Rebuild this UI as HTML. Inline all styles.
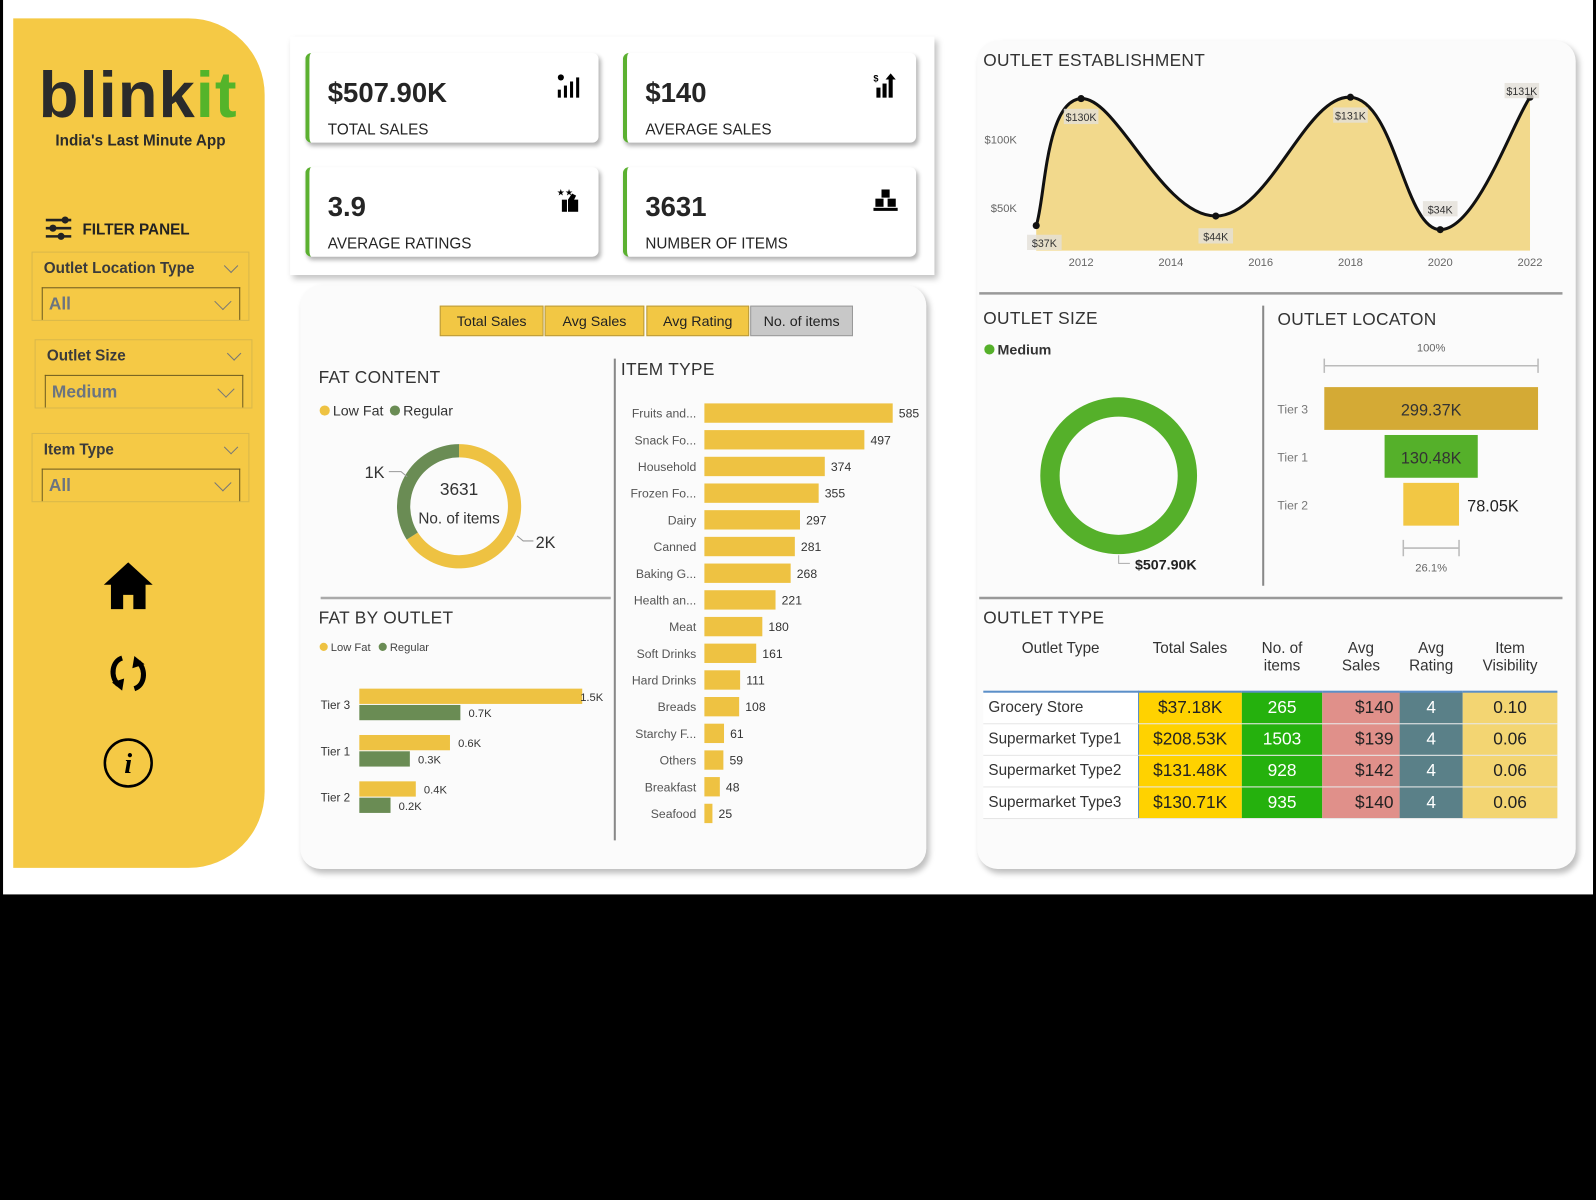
<!DOCTYPE html>
<html><head><meta charset="utf-8">
<style>
body{margin:0;width:1596px;height:1200px;background:#000;overflow:hidden;font-family:"Liberation Sans",sans-serif;}
#root{position:absolute;left:0;top:0;width:1568px;height:1178px;transform:scale(1.0179,1.0187);transform-origin:0 0;}
.abs{position:absolute;}
.page{position:absolute;left:3px;top:0;width:1562px;height:878px;background:#fff;}
.side{position:absolute;left:13px;top:18px;width:247px;height:834px;background:#f5c945;border-radius:0 75px 75px 0;}
.card{position:absolute;background:#fff;border-left:4px solid #5bb030;border-radius:6px;box-shadow:2px 3px 4px rgba(0,0,0,.3);}
.card .v{position:absolute;left:18px;top:24px;font-size:27px;font-weight:bold;color:#252525;}
.card .l{position:absolute;left:18px;top:67px;font-size:15px;color:#252525;}
.card svg{position:absolute;right:18px;top:20px;}
.panel{position:absolute;background:#fbfbfb;border-radius:20px;box-shadow:3px 4px 6px rgba(0,0,0,.25);}
.title{position:absolute;font-size:17px;color:#333;letter-spacing:.3px;}
.slic{position:absolute;border:1px solid #d9b84a;}
.slic .t{position:absolute;left:11px;top:7px;font-size:15px;font-weight:bold;color:#3b3b3b;}
.slic .dd{position:absolute;left:9px;top:34px;right:8px;height:31px;border:1px solid #6d5b20;border-bottom:none;color:#6b7480;font-size:17px;font-weight:bold;padding-left:6px;line-height:31px;}
.chev{position:absolute;width:9px;height:9px;border-right:1.5px solid #777;border-bottom:1.5px solid #777;transform:rotate(45deg);}
.btn{position:absolute;top:300px;height:28px;background:#f2c744;border:1px solid #b99a3a;font-size:14px;text-align:center;line-height:28px;color:#222;}
table{border-collapse:collapse;}
</style></head><body>
<div id="root">
<div class="page"></div>
<div class="side"></div>
<div class="abs" style="left:38px;top:56px;font-size:64px;font-weight:bold;color:#2b2b2b;letter-spacing:1px;">blink<span style="color:#54b42a">it</span></div>
<div class="abs" style="left:13px;width:250px;top:130px;text-align:center;font-size:15px;font-weight:bold;color:#2b2b2b;">India's Last Minute App</div>
<svg class="abs" style="left:44px;top:212px" width="28" height="24"><g stroke="#222" stroke-width="2.5"><line x1="1" y1="4" x2="26" y2="4"/><line x1="1" y1="12" x2="26" y2="12"/><line x1="1" y1="20" x2="26" y2="20"/></g><circle cx="20" cy="4" r="3.5" fill="#222"/><circle cx="8" cy="12" r="3.5" fill="#222"/><circle cx="16" cy="20" r="3.5" fill="#222"/></svg>
<div class="abs" style="left:81px;top:217px;font-size:15px;font-weight:bold;color:#222;">FILTER PANEL</div>

<div class="slic" style="left:31px;top:247px;width:212px;height:66px;"><div class="t">Outlet Location Type</div><div class="chev" style="right:12px;top:8px"></div><div class="dd">All<div class="chev" style="right:10px;top:7px;width:11px;height:11px"></div></div></div>
<div class="slic" style="left:34px;top:333px;width:212px;height:66px;"><div class="t">Outlet Size</div><div class="chev" style="right:12px;top:8px"></div><div class="dd">Medium<div class="chev" style="right:10px;top:7px;width:11px;height:11px"></div></div></div>
<div class="slic" style="left:31px;top:425px;width:212px;height:66px;"><div class="t">Item Type</div><div class="chev" style="right:12px;top:8px"></div><div class="dd">All<div class="chev" style="right:10px;top:7px;width:11px;height:11px"></div></div></div>

<svg class="abs" style="left:100px;top:550px" width="52" height="50"><path d="M26 2 L50 24 L43 24 L43 48 L31 48 L31 34 L21 34 L21 48 L9 48 L9 24 L2 24 Z" fill="#000"/></svg>
<svg class="abs" style="left:104px;top:640px" width="44" height="42"><path d="M16 6 C6 9 4 24 12 32" stroke="#000" stroke-width="5" fill="none"/><path d="M6 30 L16 38 L18 26 Z" fill="#000"/><path d="M28 36 C38 33 40 18 32 10" stroke="#000" stroke-width="5" fill="none"/><path d="M38 12 L28 4 L26 16 Z" fill="#000"/></svg>
<svg class="abs" style="left:101px;top:724px" width="50" height="50"><circle cx="25" cy="25" r="23" stroke="#000" stroke-width="2.5" fill="none"/><text x="25" y="35" text-anchor="middle" font-size="28" font-weight="bold" font-style="italic" font-family="Liberation Serif,serif">i</text></svg>

<div class="abs" style="left:285px;top:36px;width:633px;height:234px;background:#fff;box-shadow:3px 4px 6px rgba(0,0,0,.25);"></div>
<div class="card" style="left:300px;top:52px;width:284px;height:88px;"><div class="v">$507.90K</div><div class="l">TOTAL SALES</div><svg width="24" height="24"><rect x="2" y="16" width="3" height="8"/><rect x="8" y="12" width="3" height="12"/><rect x="14" y="8" width="3" height="16"/><rect x="20" y="4" width="3" height="20"/><circle cx="5" cy="4" r="3"/></svg></div>
<div class="card" style="left:612px;top:52px;width:284px;height:88px;"><div class="v">$140</div><div class="l">AVERAGE SALES</div><svg width="24" height="24"><rect x="3" y="14" width="4" height="10"/><rect x="9" y="10" width="4" height="14"/><rect x="15" y="6" width="4" height="18"/><path d="M17 0 L22 6 L12 6 Z"/><text x="0" y="8" font-size="9" font-weight="bold">$</text></svg></div>
<div class="card" style="left:300px;top:164px;width:284px;height:88px;"><div class="v">3.9</div><div class="l">AVERAGE RATINGS</div><svg width="24" height="24"><rect x="6" y="12" width="5" height="12"/><path d="M12 12 L16 6 L20 8 L18 12 L22 12 L22 24 L12 24 Z"/><text x="1" y="8" font-size="9">★★</text></svg></div>
<div class="card" style="left:612px;top:164px;width:284px;height:88px;"><div class="v">3631</div><div class="l">NUMBER OF ITEMS</div><svg width="24" height="24"><rect x="8" y="2" width="8" height="8"/><rect x="2" y="11" width="8" height="8"/><rect x="14" y="11" width="8" height="8"/><rect x="0" y="20" width="24" height="3"/></svg></div>

<div class="panel" style="left:295px;top:280px;width:615px;height:573px;"></div>
<div class="btn" style="left:432px;width:100px;">Total Sales</div>
<div class="btn" style="left:535px;width:96px;">Avg Sales</div>
<div class="btn" style="left:635px;width:99px;">Avg Rating</div>
<div class="btn" style="left:737px;width:99px;background:#c8c8c8;border-color:#999;">No. of items</div>

<div class="title" style="left:313px;top:361px;">FAT CONTENT</div>
<div class="title" style="left:313px;top:597px;">FAT BY OUTLET</div>
<div class="title" style="left:610px;top:353px;">ITEM TYPE</div>

<div class="panel" style="left:960px;top:40px;width:588px;height:813px;"></div>
<div class="title" style="left:966px;top:50px;">OUTLET ESTABLISHMENT</div>
<div class="title" style="left:966px;top:303px;">OUTLET SIZE</div>
<div class="title" style="left:1255px;top:304px;">OUTLET LOCATON</div>
<div class="title" style="left:966px;top:597px;">OUTLET TYPE</div>

<svg id="chart" class="abs" style="left:0;top:0" width="1568" height="878"></svg>

<table class="abs" style="left:966px;top:625px;width:564px;font-size:15px;color:#333;">
<thead><tr style="height:54px;vertical-align:top;text-align:center;border-bottom:2px solid #5b8fc8;">
<th style="width:150px;font-weight:normal;padding-top:3px">Outlet Type</th><th style="width:100px;font-weight:normal;padding-top:3px">Total Sales</th><th style="width:77px;font-weight:normal;padding-top:3px">No. of<br>items</th><th style="width:74px;font-weight:normal;padding-top:3px">Avg<br>Sales</th><th style="width:60px;font-weight:normal;padding-top:3px">Avg<br>Rating</th><th style="font-weight:normal;padding-top:3px">Item<br>Visibility</th></tr></thead>
<tbody id="tb"></tbody></table>

<script>
const NS='http://www.w3.org/2000/svg';
const svg=document.getElementById('chart');
function mk(tag,attrs,parent){const e=document.createElementNS(NS,tag);for(const k in attrs)e.setAttribute(k,attrs[k]);(parent||svg).appendChild(e);return e;}
function txt(x,y,s,size,fill,anchor,weight){const t=mk('text',{x:x,y:y,'font-size':size,fill:fill||'#333','text-anchor':anchor||'start','font-family':'Liberation Sans, sans-serif','font-weight':weight||'normal'});t.textContent=s;return t;}

// ---- data ----
const fatLabels=['Low Fat','Regular'];
const fatItems=[2396,1235];
const outletTiers=['Tier 3','Tier 1','Tier 2'];
const lowFatByTier=[1.5,0.61,0.38];
const regularByTier=[0.68,0.34,0.21];
const lowFatTierLabels=['1.5K','0.6K','0.4K'];
const regularTierLabels=['0.7K','0.3K','0.2K'];
const itemTypes=['Fruits and...','Snack Fo...','Household','Frozen Fo...','Dairy','Canned','Baking G...','Health an...','Meat','Soft Drinks','Hard Drinks','Breads','Starchy F...','Others','Breakfast','Seafood'];
const itemCounts=[585,497,374,355,297,281,268,221,180,161,111,108,61,59,48,25];
const estYears=[2011,2012,2015,2018,2020,2022];
const estSales=[37,130,44,131,34,131];
const estLabels=['$37K','$130K','$44K','$131K','$34K','$131K'];
const yTicks=[50,100];
const xTicks=[2012,2014,2016,2018,2020,2022];
const sizeLabels=['Medium'];
const sizeSales=[507.90];
const tierNames=['Tier 3','Tier 1','Tier 2'];
const tierSales=[299.37,130.48,78.05];
const tierLabels=['299.37K','130.48K','78.05K'];
const outletTypes=['Grocery Store','Supermarket Type1','Supermarket Type2','Supermarket Type3'];
const otSales=['$37.18K','$208.53K','$131.48K','$130.71K'];
const otItems=[265,1503,928,935];
const otAvg=['$140','$139','$142','$140'];
const otRating=[4,4,4,4];
const otVis=['0.10','0.06','0.06','0.06'];

// dividers
mk('line',{x1:315,y1:587,x2:600,y2:587,stroke:'#aaa','stroke-width':2.5});
mk('line',{x1:604,y1:352,x2:604,y2:825,stroke:'#888','stroke-width':2});
mk('line',{x1:962,y1:288,x2:1535,y2:288,stroke:'#999','stroke-width':2.5});
mk('line',{x1:1241,y1:300,x2:1241,y2:575,stroke:'#888','stroke-width':2});
mk('line',{x1:962,y1:587,x2:1535,y2:587,stroke:'#999','stroke-width':2.5});

// fat content donut
const fatColors=['#eec242','#6a8c54'];
let lx=314;
fatLabels.forEach((l,i)=>{const c=mk('circle',{cx:lx+5,cy:403,r:5,fill:fatColors[i]});txt(lx+13,408,l,14,'#333');lx+=69;});
function arcPath(cx,cy,r0,r1,a0,a1){const p=(r,a)=>[cx+r*Math.sin(a),cy-r*Math.cos(a)];const la=(a1-a0)>Math.PI?1:0;const A=p(r1,a0),B=p(r1,a1),C=p(r0,a1),D=p(r0,a0);return `M${A} A${r1},${r1} 0 ${la} 1 ${B} L${C} A${r0},${r0} 0 ${la} 0 ${D} Z`;}
const fatTot=fatItems.reduce((a,b)=>a+b,0);
let ang=0;
fatItems.forEach((v,i)=>{const a1=ang+v/fatTot*2*Math.PI;const p=mk('path',{d:arcPath(451,497,48,61,ang,Math.min(a1,2*Math.PI-1e-4)),fill:fatColors[i]});ang=a1;});
txt(451,486,String(fatTot),17,'#333','middle');
txt(451,514,'No. of items',15,'#333','middle');
txt(368,469,'1K',16,'#333','middle');
mk('path',{d:'M382 463 L394 463 L400 468',stroke:'#999',fill:'none'});
txt(536,538,'2K',16,'#333','middle');
mk('path',{d:'M508 526 L514 531 L524 531',stroke:'#999',fill:'none'});

// fat by outlet
[['Low Fat',fatColors[0]],['Regular',fatColors[1]]].forEach((l,i)=>{const x=314+i*58;mk('circle',{cx:x+4,cy:635,r:4,fill:l[1]});txt(x+11,639,l[0],11,'#444');});
const fxs=v=>353+v*146;
outletTiers.forEach((t,i)=>{const y0=676+i*45.5;
 const b1=mk('rect',{x:353,y:y0,width:fxs(lowFatByTier[i])-353,height:15,fill:fatColors[0]});
 const b2=mk('rect',{x:353,y:y0+16,width:fxs(regularByTier[i])-353,height:15,fill:fatColors[1]});
 txt(Math.min(fxs(lowFatByTier[i])+8,570),y0+12,lowFatTierLabels[i],11,'#333');
 txt(fxs(regularByTier[i])+8,y0+28,regularTierLabels[i],11,'#333');
 txt(344,y0+20,t,11.5,'#333','end');});

// item type
const ixs=v=>v*185/585;
itemTypes.forEach((t,i)=>{const y=396+i*26.2;
 const b=mk('rect',{x:692,y:y,width:ixs(itemCounts[i]),height:19,fill:'#eec242'});
 txt(684,y+14,t,12,'#555','end');
 txt(692+ixs(itemCounts[i])+6,y+14,String(itemCounts[i]),12,'#333');});

// outlet establishment area
const ex=y=>1018+(y-2011)*44.1;
const ey=v=>271-v*1.34;
const base=246;
const pts=estYears.map((y,i)=>[ex(y),ey(estSales[i])]);
function smooth(p){let d=`M${p[0][0]},${p[0][1]}`;for(let i=0;i<p.length-1;i++){const p0=p[i-1]||p[i],p1=p[i],p2=p[i+1],p3=p[i+2]||p2;const t=0.2;const c1=[p1[0]+(p2[0]-p0[0])*t,p1[1]+(p2[1]-p0[1])*t];const c2=[p2[0]-(p3[0]-p1[0])*t,p2[1]-(p3[1]-p1[1])*t];d+=` C${c1} ${c2} ${p2}`;}return d;}
const line=smooth(pts);
const area=mk('path',{d:line+` L${pts[pts.length-1][0]},${base} L${pts[0][0]},${base} Z`,fill:'#f2d98c'});
const ln=mk('path',{d:line,fill:'none',stroke:'#111','stroke-width':3});
yTicks.forEach(v=>txt(999,ey(v)+4,'$'+v+'K',11,'#666','end'));
xTicks.forEach(y=>txt(ex(y),261,String(y),11,'#666','middle'));
const lblOff=[[8,17],[0,18],[0,20],[0,18],[0,-20],[-8,-6]];
pts.forEach((p,i)=>{const c=mk('circle',{cx:p[0],cy:p[1],r:3.5,fill:'#111'});
 const lx2=p[0]+lblOff[i][0],ly2=p[1]+lblOff[i][1];mk('rect',{x:lx2-17,y:ly2-8,width:34,height:15,fill:'#e3e0d8',opacity:.8});txt(lx2,ly2+4,estLabels[i],10.5,'#333','middle');});

// outlet size donut
const c0=mk('circle',{cx:972,cy:343,r:5,fill:'#55b02a'});txt(980,348,sizeLabels[0],14,'#333','start','bold');
const sTot=sizeSales.reduce((a,b)=>a+b,0);
sizeSales.forEach((v,i)=>{const d=mk('path',{d:arcPath(1099,467,58,77,0,v/sTot*2*Math.PI-1e-4),fill:'#55b02a'});});
mk('path',{d:'M1099 545 L1099 553 L1110 553',stroke:'#aaa',fill:'none'});
txt(1115,559,'$'+sizeSales[0].toFixed(2)+'K',14,'#222','start','bold');

// funnel
const fmax=Math.max(...tierSales);const fw=v=>v/fmax*210;const fc=1406;
const fcols=['#d4aa35','#55b02a','#f2c744'];
txt(fc,345,'100%',11,'#666','middle');
mk('path',{d:`M${fc-105} 352 L${fc-105} 366 M${fc-105} 359 L${fc+105} 359 M${fc+105} 352 L${fc+105} 366`,stroke:'#bbb','stroke-width':1.5,fill:'none'});
tierSales.forEach((v,i)=>{const y=380+i*47;const w=fw(v);
 const r=mk('rect',{x:fc-w/2,y:y,width:w,height:42,fill:fcols[i]});
 if(w>80)txt(fc,y+28,tierLabels[i],16,'#333','middle');else txt(fc+w/2+8,y+28,tierLabels[i],16,'#222','start');
 txt(1270,y+26,tierNames[i],12,'#777','middle');});
const wl=fw(tierSales[tierSales.length-1]);
mk('path',{d:`M${fc-wl/2} 530 L${fc-wl/2} 546 M${fc-wl/2} 538 L${fc+wl/2} 538 M${fc+wl/2} 530 L${fc+wl/2} 546`,stroke:'#bbb','stroke-width':1.5,fill:'none'});
txt(fc,561,(tierSales[2]/tierSales[0]*100).toFixed(1)+'%',11,'#666','middle');

// table
const tb=document.getElementById('tb');
outletTypes.forEach((t,i)=>{const tr=document.createElement('tr');tr.style.height='31px';
 
 
 const cells=[[t,'#fff','#333','left'],[otSales[i],'#ffd200','#222','center'],[otItems[i],'#25b10d','#fff','center'],[otAvg[i],'#e0908a','#222','right'],[otRating[i],'#5a8088','#fff','center'],[otVis[i],'#f3d572','#222','center']];
 cells.forEach((c,j)=>{const td=document.createElement('td');td.textContent=c[0];td.style.background=c[1];td.style.color=c[2];td.style.textAlign=c[3];td.style.fontSize=j?'17px':'15px';td.style.padding=j==0?'0 0 0 5px':(j==3?'0 6px 0 0':'0');td.style.borderBottom='1px solid #e6e6e6';if(j==0)td.style.borderRight='1px solid #5b8fc8';tr.appendChild(td);});
 tb.appendChild(tr);});
</script>
</div>
</body></html>
